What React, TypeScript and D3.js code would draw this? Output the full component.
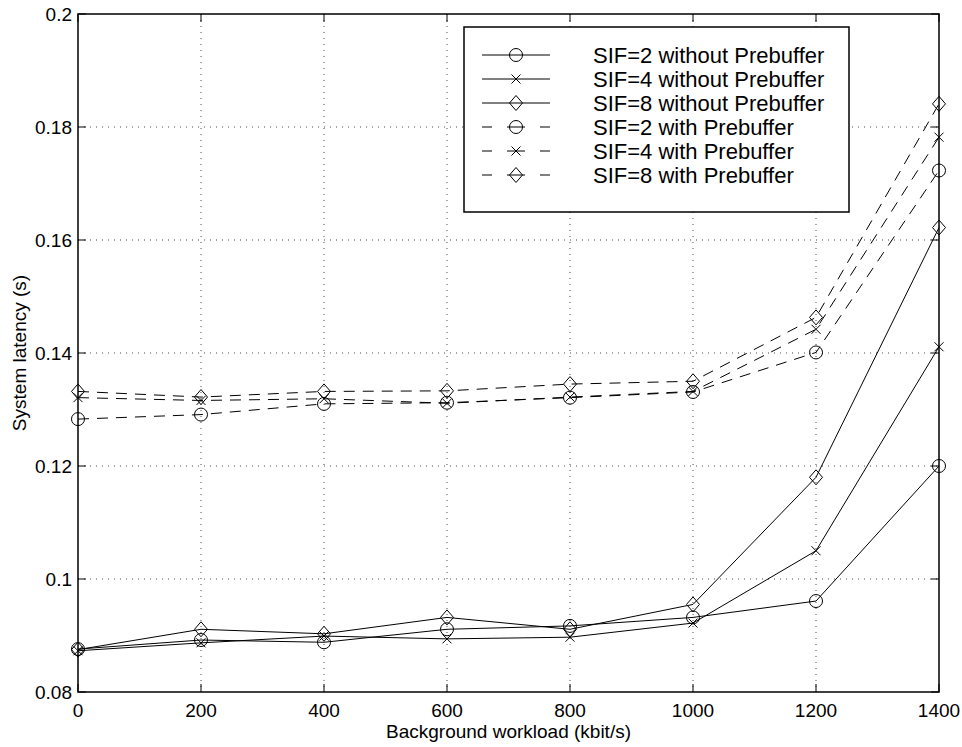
import React from "react";
import * as d3 from "d3";

const xValues = [0, 200, 400, 600, 800, 1000, 1200, 1400];
const sif2Without = [0.0876, 0.0892, 0.0888, 0.0911, 0.0917, 0.0932, 0.0961, 0.12];
const sif4Without = [0.0873, 0.0887, 0.0899, 0.0894, 0.0897, 0.0922, 0.105, 0.1411];
const sif8Without = [0.0875, 0.0911, 0.0903, 0.0932, 0.0911, 0.0955, 0.118, 0.1622];
const sif2With = [0.1283, 0.1291, 0.131, 0.1312, 0.1321, 0.1331, 0.1401, 0.1723];
const sif4With = [0.1321, 0.1316, 0.1319, 0.1311, 0.1322, 0.1332, 0.1442, 0.1782];
const sif8With = [0.1332, 0.1322, 0.1332, 0.1333, 0.1345, 0.135, 0.1463, 0.1841];

const seriesNames = [
  "SIF=2 without Prebuffer",
  "SIF=4 without Prebuffer",
  "SIF=8 without Prebuffer",
  "SIF=2 with Prebuffer",
  "SIF=4 with Prebuffer",
  "SIF=8 with Prebuffer",
];
const seriesMarkers = ["circle", "x", "diamond", "circle", "x", "diamond"];
const seriesDashed = [false, false, false, true, true, true];
const seriesValues = [sif2Without, sif4Without, sif8Without, sif2With, sif4With, sif8With];

const xTicks = [0, 200, 400, 600, 800, 1000, 1200, 1400];
const yTicks = [0.08, 0.1, 0.12, 0.14, 0.16, 0.18, 0.2];
const yTickLabels = ["0.08", "0.1", "0.12", "0.14", "0.16", "0.18", "0.2"];

const xLabel = "Background workload (kbit/s)";
const yLabel = "System latency (s)";

const W = 962;
const H = 747;
const left = 78;
const right = 939;
const top = 14;
const bottom = 692;
const FONT = "'Liberation Sans', Arial, Helvetica, sans-serif";

function Marker({ type, x, y }: { type: string; x: number; y: number }) {
  if (type === "circle") {
    return <circle cx={x} cy={y} r={6.5} fill="none" stroke="#000" strokeWidth={1} />;
  }
  if (type === "x") {
    const s = 4.5;
    return (
      <path
        d={`M${x - s},${y - s}L${x + s},${y + s}M${x - s},${y + s}L${x + s},${y - s}`}
        stroke="#000"
        strokeWidth={1}
        fill="none"
      />
    );
  }
  const w = 6.5;
  const h = 7.5;
  return (
    <path
      d={`M${x},${y - h}L${x + w},${y}L${x},${y + h}L${x - w},${y}Z`}
      fill="none"
      stroke="#000"
      strokeWidth={1}
    />
  );
}

export default function App() {
  const xScale = d3.scaleLinear().domain([0, 1400]).range([left, right]);
  const yScale = d3.scaleLinear().domain([0.08, 0.2]).range([bottom, top]);
  const line = d3
    .line<number>()
    .x((_, i) => xScale(xValues[i]))
    .y((d) => yScale(d));

  const legX = 464;
  const legY = 27;
  const legW = 385;
  const legH = 185;
  const rowY0 = 55;
  const rowDy = 24;

  return (
    <svg
      width={W}
      height={H}
      style={{ position: "absolute", left: 0, top: 0, background: "#fff" }}
      fontFamily={FONT}
    >
      <rect x={0} y={0} width={W} height={H} fill="#fff" />
      {/* grid */}
      <g stroke="#000" strokeWidth={1} strokeDasharray="1,5" opacity={0.7}>
        {xTicks.slice(1, -1).map((t) => (
          <line key={"gx" + t} x1={xScale(t)} x2={xScale(t)} y1={top} y2={bottom} />
        ))}
        {yTicks.slice(1, -1).map((t) => (
          <line key={"gy" + t} x1={left} x2={right} y1={yScale(t)} y2={yScale(t)} />
        ))}
      </g>
      {/* series */}
      {seriesValues.map((vals, si) => (
        <g key={"s" + si}>
          <path
            d={line(vals) || ""}
            fill="none"
            stroke="#000"
            strokeWidth={1}
            strokeDasharray={seriesDashed[si] ? "11,8" : undefined}
          />
          {vals.map((v, i) => (
            <Marker key={i} type={seriesMarkers[si]} x={xScale(xValues[i])} y={yScale(v)} />
          ))}
        </g>
      ))}
      {/* axes box */}
      <rect x={left} y={top} width={right - left} height={bottom - top} fill="none" stroke="#000" strokeWidth={1.5} />
      {/* ticks */}
      <g stroke="#000" strokeWidth={1}>
        {xTicks.map((t) => (
          <g key={"tx" + t}>
            <line x1={xScale(t)} x2={xScale(t)} y1={bottom} y2={bottom - 8} />
            <line x1={xScale(t)} x2={xScale(t)} y1={top} y2={top + 8} />
          </g>
        ))}
        {yTicks.map((t) => (
          <g key={"ty" + t}>
            <line x1={left} x2={left + 8} y1={yScale(t)} y2={yScale(t)} />
            <line x1={right} x2={right - 8} y1={yScale(t)} y2={yScale(t)} />
          </g>
        ))}
      </g>
      {/* tick labels */}
      <g fontSize={19} fill="#000">
        {xTicks.map((t) => (
          <text key={"lx" + t} x={xScale(t)} y={717} textAnchor="middle">
            {t}
          </text>
        ))}
        {yTicks.map((t, i) => (
          <text key={"ly" + t} x={72} y={yScale(t) + 7} textAnchor="end">
            {yTickLabels[i]}
          </text>
        ))}
      </g>
      <text x={(left + right) / 2} y={738} textAnchor="middle" fontSize={19}>
        {xLabel}
      </text>
      <text
        transform={`translate(26,${(top + bottom) / 2}) rotate(-90)`}
        textAnchor="middle"
        fontSize={19}
      >
        {yLabel}
      </text>
      {/* legend */}
      <rect x={legX} y={legY} width={legW} height={legH} fill="#fff" stroke="#000" strokeWidth={1.5} />
      {seriesNames.map((name, i) => {
        const y = rowY0 + i * rowDy;
        return (
          <g key={"leg" + i}>
            {seriesDashed[i] ? (
              <g stroke="#000" strokeWidth={1}>
                <line x1={482} x2={492} y1={y} y2={y} />
                <line x1={507} x2={525} y1={y} y2={y} />
                <line x1={540} x2={550} y1={y} y2={y} />
              </g>
            ) : (
              <line x1={482} x2={550} y1={y} y2={y} stroke="#000" strokeWidth={1} />
            )}
            <Marker type={seriesMarkers[i]} x={516} y={y} />
            <text x={593} y={y + 8} fontSize={22}>
              {name}
            </text>
          </g>
        );
      })}
    </svg>
  );
}
